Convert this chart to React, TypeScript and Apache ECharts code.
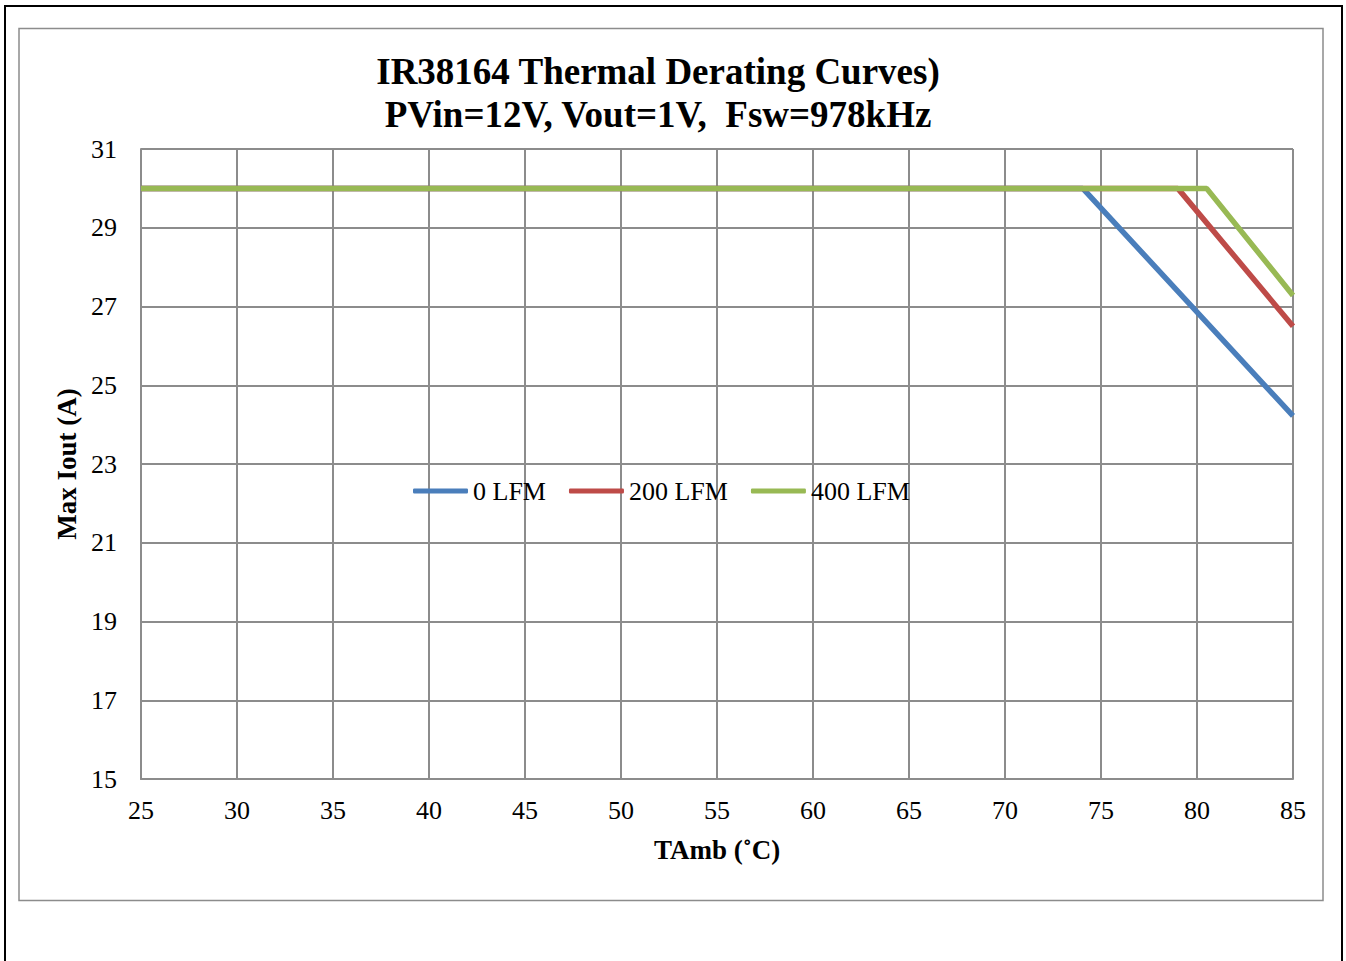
import React, { useEffect, useRef } from "react";
import * as echarts from "echarts";

const seriesNames = ["0 LFM", "200 LFM", "400 LFM"];
const colors = ["#4A7EBB", "#BE4B48", "#98B954"];
const lfm0: [number, number][] = [[25, 30], [74.05, 30], [85, 24.22]];
const lfm200: [number, number][] = [[25, 30], [79.0, 30], [85, 26.5]];
const lfm400: [number, number][] = [[25, 30], [80.5, 30], [85, 27.28]];
const titleLines = ["IR38164 Thermal Derating Curves)", "PVin=12V, Vout=1V,  Fsw=978kHz"];
const xName = "TAmb (˚C)";
const yName = "Max Iout (A)";

const FONT = "'Liberation Serif', 'Times New Roman', serif";

export default function App() {
  const ref = useRef<HTMLDivElement>(null);
  useEffect(() => {
    if (!ref.current) return;
    const chart = echarts.init(ref.current, null, { renderer: "svg" });
    const data = [lfm0, lfm200, lfm400];
    chart.setOption({
      animation: false,
      backgroundColor: "#ffffff",
      textStyle: { fontFamily: FONT },
      title: {
        text: titleLines.join("\n"),
        left: 653,
        top: 45,
        textAlign: "center",
        textStyle: { fontFamily: FONT, fontSize: 37, fontWeight: "bold", color: "#000", lineHeight: 43 },
      },
      legend: {
        left: 413,
        top: 478,
        padding: 0,
        itemWidth: 55,
        itemHeight: 5,
        itemGap: 23,
        icon: "roundRect",
        data: seriesNames.map((n, i) => ({ name: n, itemStyle: { color: colors[i] } })),
        textStyle: { fontFamily: FONT, fontSize: 26, color: "#000" },
      },
      grid: { left: 141, right: 53, top: 149, bottom: 182, containLabel: false },
      xAxis: {
        type: "value",
        min: 25,
        max: 85,
        interval: 5,
        name: xName,
        nameLocation: "middle",
        nameGap: 57,
        nameTextStyle: { fontFamily: FONT, fontSize: 27, fontWeight: "bold", color: "#000" },
        axisLine: { show: true, lineStyle: { color: "#8c8c8c", width: 2 } },
        axisTick: { show: false },
        axisLabel: { fontFamily: FONT, fontSize: 26, color: "#000", margin: 18 },
        splitLine: { show: true, lineStyle: { color: "#8c8c8c", width: 2 } },
      },
      yAxis: {
        type: "value",
        min: 15,
        max: 31,
        interval: 2,
        name: yName,
        nameLocation: "middle",
        nameGap: 56,
        nameTextStyle: { fontFamily: FONT, fontSize: 27, fontWeight: "bold", color: "#000" },
        axisLine: { show: true, lineStyle: { color: "#8c8c8c", width: 2 } },
        axisTick: { show: false },
        axisLabel: { fontFamily: FONT, fontSize: 26, color: "#000", margin: 24 },
        splitLine: { show: true, lineStyle: { color: "#8c8c8c", width: 2 } },
      },
      series: seriesNames.map((n, i) => ({
        name: n,
        type: "line",
        data: data[i],
        symbol: "none",
        lineStyle: { color: colors[i], width: 5.5 },
        itemStyle: { color: colors[i] },
        z: 3 + i,
      })),
      graphic: [
        {
          type: "rect",
          shape: { x: 5, y: 6, width: 1337, height: 970 },
          style: { fill: "none", stroke: "#000", lineWidth: 2 },
          silent: true,
        },
        {
          type: "rect",
          shape: { x: 19, y: 28.5, width: 1304, height: 872 },
          style: { fill: "none", stroke: "#8c8c8c", lineWidth: 1.5 },
          silent: true,
        },
      ],
    });
    return () => chart.dispose();
  }, []);
  return (
    <div
      ref={ref}
      style={{ position: "fixed", left: 0, top: 0, width: 1346, height: 961, background: "#fff" }}
    />
  );
}
